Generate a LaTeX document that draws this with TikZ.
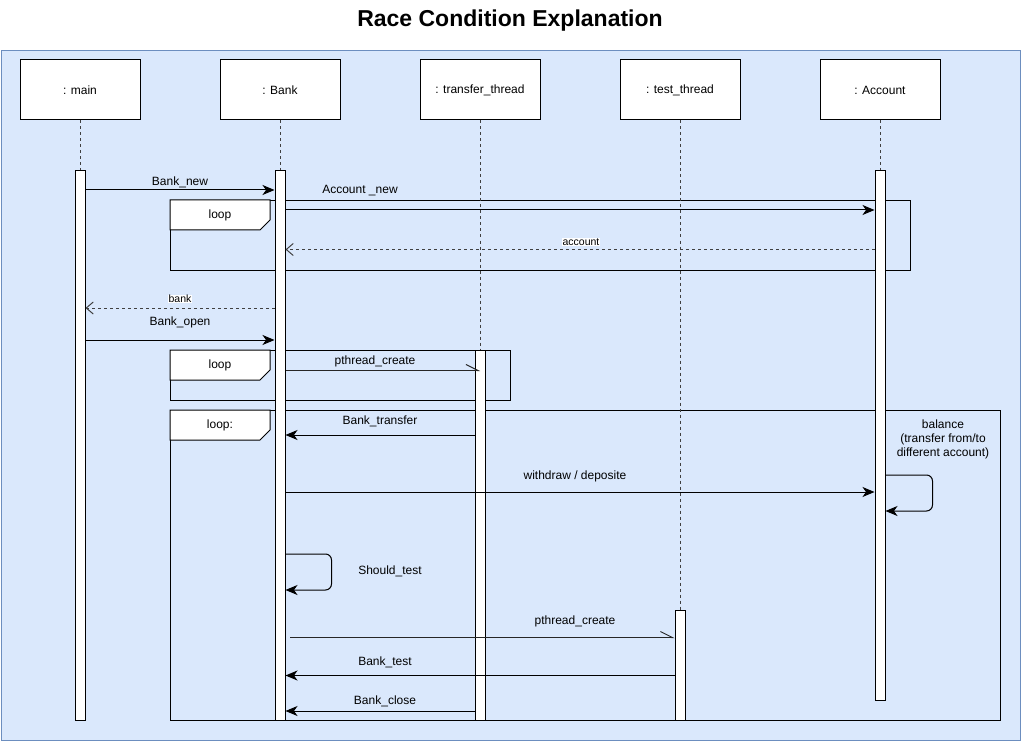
\documentclass[tikz,border=0pt]{standalone}
\usepackage{fontspec}
\setmainfont{Liberation Sans}
\usetikzlibrary{arrows.meta}
\definecolor{mybg}{RGB}{218,232,252}
\definecolor{myedge}{RGB}{108,142,191}

\begin{document}
\begin{tikzpicture}[x=1pt,y=-1pt,
  txt/.style={font=\fontsize{12}{14}\selectfont},
  small/.style={font=\fontsize{10.5}{12}\selectfont, fill=white, inner sep=0.5pt},
  obj/.style={draw, fill=white, line width=1pt, minimum width=120, minimum height=60, txt},
  bar/.style={draw, fill=white, line width=1pt, minimum width=10, anchor=north, inner sep=0pt},
  life/.style={draw=black!75, line width=1pt, dash pattern=on 3pt off 3pt},
  frame/.style={draw, line width=1pt, anchor=north west, inner sep=0pt},
  tag/.style={draw, fill=white, line width=1pt},
  msg/.style={line width=1pt, -{Stealth[length=12pt, width=10pt, inset=3.5pt]}},
  ret/.style={line width=1pt, draw=black!75, dash pattern=on 3pt off 3pt, -{Straight Barb[length=7pt, width=12pt]}},
  create/.style={line width=1pt, draw=black!85, -{Straight Barb[harpoon, length=12pt, width=12pt]}}]

\useasboundingbox (0,0) rectangle (1021,741);
\node[font=\bfseries\fontsize{23}{28}\selectfont] (title) at (510,21) {Race Condition Explanation};
\node[draw=myedge, fill=mybg, line width=1pt, anchor=north west, minimum width=1019, minimum height=690] (diagram) at (0.5,50) {};

% participants
\foreach \n/\t/\x in {main/main/80, bank/Bank/280, transfer/transfer\_thread/480, test/test\_thread/680, account/Account/880}
  \node[obj] (\n) at (\x,90) {: \t};

% combined fragments
\foreach \f/\x/\y/\w/\h/\t in {loopA/170/200/740/70/loop, loopB/170/350/340/50/loop, loopC/170/410/830/310/loop:}{
  \node[frame, minimum width=\w, minimum height=\h] (\f) at (\x,\y) {};
  \draw[tag] (\f.north west) -- ++(100,0) -- ++(0,20) -- ++(-10,10) -- ++(-90,0) -- cycle;
  \node[txt] (\f tag) at (\x+50,\y+15.5) {\t};
}

% activation bars
\node[bar, minimum height=550] (mainbar) at (80,170) {};
\node[bar, minimum height=550] (bankbar) at (280,170) {};
\node[bar, minimum height=370] (transferbar) at (480,350) {};
\node[bar, minimum height=110] (testbar) at (680,610) {};
\node[bar, minimum height=530] (accountbar) at (880,170) {};

\foreach \n in {main,bank,transfer,test,account}
  \draw[life] (\n.south) -- (\n bar.north);

% messages
\draw[msg] (mainbar.east |- 0,190) -- (bankbar.west |- 0,190) node[txt] at (180,182) {Bank\_new};
\draw[msg] (bankbar.east |- 0,210) -- (accountbar.west |- 0,210) node[txt] at (360,191) {Account \_new};
\draw[ret] (accountbar.west |- 0,249.5) -- (bankbar.east |- 0,249.5) node[small] at (581,242) {account};
\draw[ret] (bankbar.west |- 0,308) -- (mainbar.east |- 0,308) node[small] at (180,299) {bank};
\draw[msg] (mainbar.east |- 0,340) -- (bankbar.west |- 0,340) node[txt] at (180,322) {Bank\_open};
\draw[create] (bankbar.east |- 0,370.5) -- (transferbar.center |- 0,370.5) node[txt] at (375,361) {pthread\_create};
\draw[msg] (transferbar.west |- 0,435) -- (bankbar.east |- 0,435) node[txt] at (380,421) {Bank\_transfer};
\draw[msg] (bankbar.east |- 0,492) -- (accountbar.west |- 0,492) node[txt] at (575,476) {withdraw / deposite};
\draw[msg, rounded corners=6pt] (accountbar.east |- 0,475) -- ++(47,0) -- ++(0,36) -- (accountbar.east |- 0,511);
\node[txt, align=center] (balance) at (943,439) {balance\\(transfer from/to\\different account)};
\draw[msg, rounded corners=6pt] (bankbar.east |- 0,554) -- ++(46,0) -- ++(0,36) -- (bankbar.east |- 0,590);
\node[txt] (shouldtest) at (390,571) {Should\_test};
\draw[create] (290,637.5) -- (testbar.west |- 0,637.5) node[txt] at (575,621) {pthread\_create};
\draw[msg] (testbar.west |- 0,675.5) -- (bankbar.east |- 0,675.5) node[txt] at (385,662) {Bank\_test};
\draw[msg] (transferbar.west |- 0,711) -- (bankbar.east |- 0,711) node[txt] at (385,701) {Bank\_close};

\end{tikzpicture}
\end{document}
